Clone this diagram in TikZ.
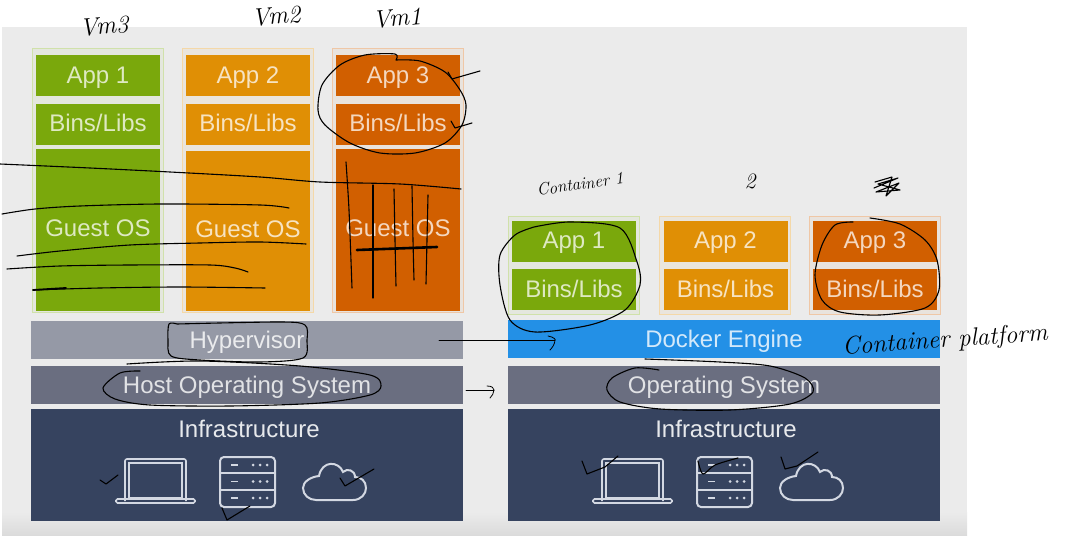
\documentclass[tikz,border=0pt]{standalone}
\usepackage{fontspec}
\newfontfamily\slidefont{Liberation Sans}
\usetikzlibrary{calc}
\definecolor{pagegray}{HTML}{EBEBEB}
\definecolor{appgreen}{HTML}{7AA80C}
\definecolor{apporange}{HTML}{E08F05}
\definecolor{apprust}{HTML}{D15F00}
\definecolor{hypergray}{HTML}{9599A6}
\definecolor{hostgray}{HTML}{6A6E80}
\definecolor{infrablue}{HTML}{36435F}
\definecolor{dockerblue}{HTML}{2390E6}
\definecolor{iconline}{HTML}{D3D8E2}
\tikzset{
  tile/.style={inner sep=0pt, text height=17pt, text depth=0pt, font=\slidefont\fontsize{24}{24}\selectfont},
  frame/.style={draw=#1!35!white, fill=#1!6!pagegray, line width=1pt, inner sep=0pt},
  app/.style={tile, fill=#1, text=#1!25!white, minimum width=124pt, minimum height=41pt},
  guest/.style={tile, fill=#1, text=#1!25!white, minimum width=124pt, text depth=4pt},
  layer/.style={tile, fill=#1, text=#1!20!white, minimum width=432pt, minimum height=38pt},
  ink/.style={draw=black, line width=1.1pt, line cap=round, line join=round},
  hand/.style={inner sep=0pt, text=black, font=\itshape\fontsize{#1}{#1}\selectfont},
  infraicons/.pic={
    \draw[iconline, line width=1.6pt, rounded corners=2pt] (125,501) -- (125,459) -- (186,459) -- (186,501);
    \draw[iconline, line width=1.2pt] (129,498) -- (129,463) -- (182,463) -- (182,498) -- cycle;
    \draw[iconline, line width=1.6pt, rounded corners=1.5pt] (116,499) -- (195,499) -- (195,503) -- (116,503) -- cycle;
    \draw[iconline, line width=2pt, rounded corners=4pt] (220,457) rectangle (275,507);
    \draw[iconline, line width=2pt] (220,473) -- (275,473) (220,490) -- (275,490);
    \foreach \rowy in {465,481.5,498} {
      \draw[iconline, line width=1.6pt] (231,\rowy) -- (238,\rowy);
      \foreach \doty in {253,260,267}
        \fill[iconline] (\doty,\rowy) circle (1.5pt);
    }
    \draw[iconline, line width=2pt] (316,500) -- (353,500)
      .. controls (361,500) and (366,494) .. (366,488)
      .. controls (366,481) and (361,477) .. (355,477)
      .. controls (355,470) and (347,468) .. (343,472)
      .. controls (339,461) and (322,460) .. (319,476)
      .. controls (310,477) and (303,482) .. (303,488)
      .. controls (303,495) and (309,500) .. (316,500) -- cycle;
  }
}
\begin{document}
\begin{tikzpicture}[x=1pt, y=-1pt]
\useasboundingbox (0,0) rectangle (1072,548);
\fill[pagegray] (2,27) rectangle (967,535);
\shade[top color=pagegray, bottom color=black!14] (2,512) rectangle (967,535);

\node[frame=appgreen, minimum width=131pt, minimum height=264pt] (FA) at (97.5,181) {};
\node[frame=apporange, minimum width=131pt, minimum height=264pt] (FB) at (247.5,181) {};
\node[frame=apprust, minimum width=131pt, minimum height=264pt] (FC) at (397.5,181) {};
\node[app=appgreen] (VA) at (98,75.5) {App 1};
\node[app=appgreen, text depth=2pt] (VB) at (98,124.5) {Bins/Libs};
\node[guest=appgreen, minimum height=162pt] (VC) at (98,230) {Guest OS};
\node[app=apporange] (WA) at (248,75.5) {App 2};
\node[app=apporange, text depth=2pt] (WB) at (248,124.5) {Bins/Libs};
\node[guest=apporange, minimum height=160pt] (WC) at (248,231) {Guest OS};
\node[app=apprust] (XA) at (398,75.5) {App 3};
\node[app=apprust, text depth=2pt] (XB) at (398,124.5) {Bins/Libs};
\node[guest=apprust, minimum height=162pt] (XC) at (398,230) {Guest OS};
\node[layer=hypergray] (HV) at (247,340) {Hypervisor};
\node[layer=hostgray] (HO) at (247,385) {Host Operating System};
\node[layer=infrablue, minimum height=112pt] (IL) at (247,465) {};
\node[tile, text=white!88!infrablue] (IT) at (249,429) {Infrastructure};

\node[frame=appgreen, minimum width=131pt, minimum height=98pt] (GA) at (573.5,266) {};
\node[frame=apporange, minimum width=131pt, minimum height=98pt] (GB) at (725,266) {};
\node[frame=apprust, minimum width=131pt, minimum height=98pt] (GC) at (874.5,266) {};
\node[app=appgreen, text depth=3pt] (CA) at (574,241.5) {App 1};
\node[app=appgreen, text depth=2pt] (CB) at (574,290) {Bins/Libs};
\node[app=apporange, text depth=3pt] (DA) at (725.5,241.5) {App 2};
\node[app=apporange, text depth=2pt] (DB) at (725.5,290) {Bins/Libs};
\node[app=apprust, text depth=3pt] (EA) at (875,241.5) {App 3};
\node[app=apprust, text depth=2pt] (EB) at (875,290) {Bins/Libs};
\node[layer=dockerblue] (DE) at (724,339) {Docker Engine};
\node[layer=hostgray] (OS) at (724,385) {Operating System};
\node[layer=infrablue, minimum height=112pt] (IR) at (724,465) {};
\node[tile, text=white!88!infrablue] (IS) at (726,429) {Infrastructure};

\pic at (0,0) {infraicons};
\pic at (477,0) {infraicons};

\node[hand=25, rotate=5] (LC) at (104,26) {Vm3};
\node[hand=25, rotate=5] (LB) at (276,16) {Vm2};
\node[hand=25, rotate=5] (LA) at (397,18) {Vm1};
\node[hand=17, rotate=8] (LD) at (580,184) {Container 1};
\node[hand=22] (LE) at (750,181) {2};
\node[hand=25, rotate=4] (LP) at (945,341) {Container platform};

\draw[ink] plot[smooth] coordinates {(0,164) (90,168) (170,172) (260,177) (320,182) (400,184) (461,189)};
\draw[ink] plot[smooth] coordinates {(2,214) (35,209) (80,206) (160,204) (260,205) (289,208)};
\draw[ink] plot[smooth] coordinates {(17,256) (60,251) (130,245) (200,243) (260,242) (306,244)};
\draw[ink] plot[smooth] coordinates {(7,269) (60,266) (130,265) (210,265) (235,268) (248,272)};
\draw[ink] plot[smooth] coordinates {(33,290) (100,288) (180,287) (265,288)};
\draw[ink, line width=1.8pt] (33,290) -- (66,288);
\draw[ink] plot[smooth] coordinates {(346,162) (349,210) (352,288)};
\draw[ink] (373,185) -- (373,298);
\draw[ink] plot[smooth] coordinates {(394,189) (395,240) (396,286)};
\draw[ink] plot[smooth] coordinates {(412,186) (413,240) (414,280)};
\draw[ink] plot[smooth] coordinates {(428,195) (427,240) (426,284)};
\draw[ink, line width=2.6pt] (357,250) -- (437,247);
\draw[ink] plot[smooth] coordinates {(396,60) (420,61) (445,72) (460,90) (466,105) (462,125) (445,143) (415,153) (380,153) (350,143) (325,125) (318,110) (322,85) (340,65) (365,55) (395,54) (396,60)};
\draw[ink] (448,72) -- (452,79) -- (480,71);
\draw[ink] (451,121) -- (455,128) -- (472,123);

\draw[ink] plot[smooth] coordinates {(177,324) (169,324) (168,340) (171,356) (200,360) (260,362) (303,358) (307,340) (305,325) (280,322) (177,324)};
\draw[ink] plot[smooth] coordinates {(140,371) (120,373) (103,388) (115,399) (150,405) (230,406) (320,403) (370,395) (381,386) (370,375) (300,366) (200,361) (127,364)};
\coordinate (P1) at (439,340);
\coordinate (Q1) at (555,340);
\coordinate (P2) at (466,390);
\coordinate (Q2) at (494,390);
\draw[ink, line width=.8pt] (P1) -- (Q1);
\draw[ink, line width=.8pt] (548,336) .. controls (554,337) and (556,340) .. (Q1) .. controls (555,344) and (552,348) .. (550,350);
\draw[ink, line width=.8pt] (P2) -- (Q2);
\draw[ink, line width=.8pt] (487,386) .. controls (492,386) and (494,388) .. (Q2) .. controls (494,393) and (492,396) .. (490,398);

\draw[ink] (100,480) -- (106,484) -- (118,475);
\draw[ink] (222,508) -- (227,520) -- (250,506);
\draw[ink] (340,478) -- (345,486) -- (374,469);
\draw[ink] plot[smooth] coordinates {(659,370) (635,368) (612,378) (607,390) (620,402) (660,409) (730,410) (790,404) (813,392) (805,378) (770,366) (720,362) (645,359)};
\draw[ink] (582,461) -- (587,474) -- (605,467) -- (618,456);
\draw[ink] plot[smooth] coordinates {(698,461) (703,474) (715,465) (738,458)};
\draw[ink] (781,457) -- (785,469) -- (797,466) -- (818,452);
\draw[ink] plot[smooth] coordinates {(534,227) (570,222) (620,228) (637,262) (640,285) (625,310) (590,325) (535,332) (510,320) (500,285) (500,255) (515,235) (534,227)};
\draw[ink] plot[smooth] coordinates {(853,222) (835,225) (822,245) (815,275) (822,300) (840,312) (880,315) (925,308) (939,290) (937,260) (925,240) (900,224) (870,218)};
\draw[ink] (874,188) -- (898,178) -- (878,184) -- (900,190) -- (876,192) -- (899,183) -- (886,196) -- (892,177) -- (875,182);
\end{tikzpicture}
\end{document}
